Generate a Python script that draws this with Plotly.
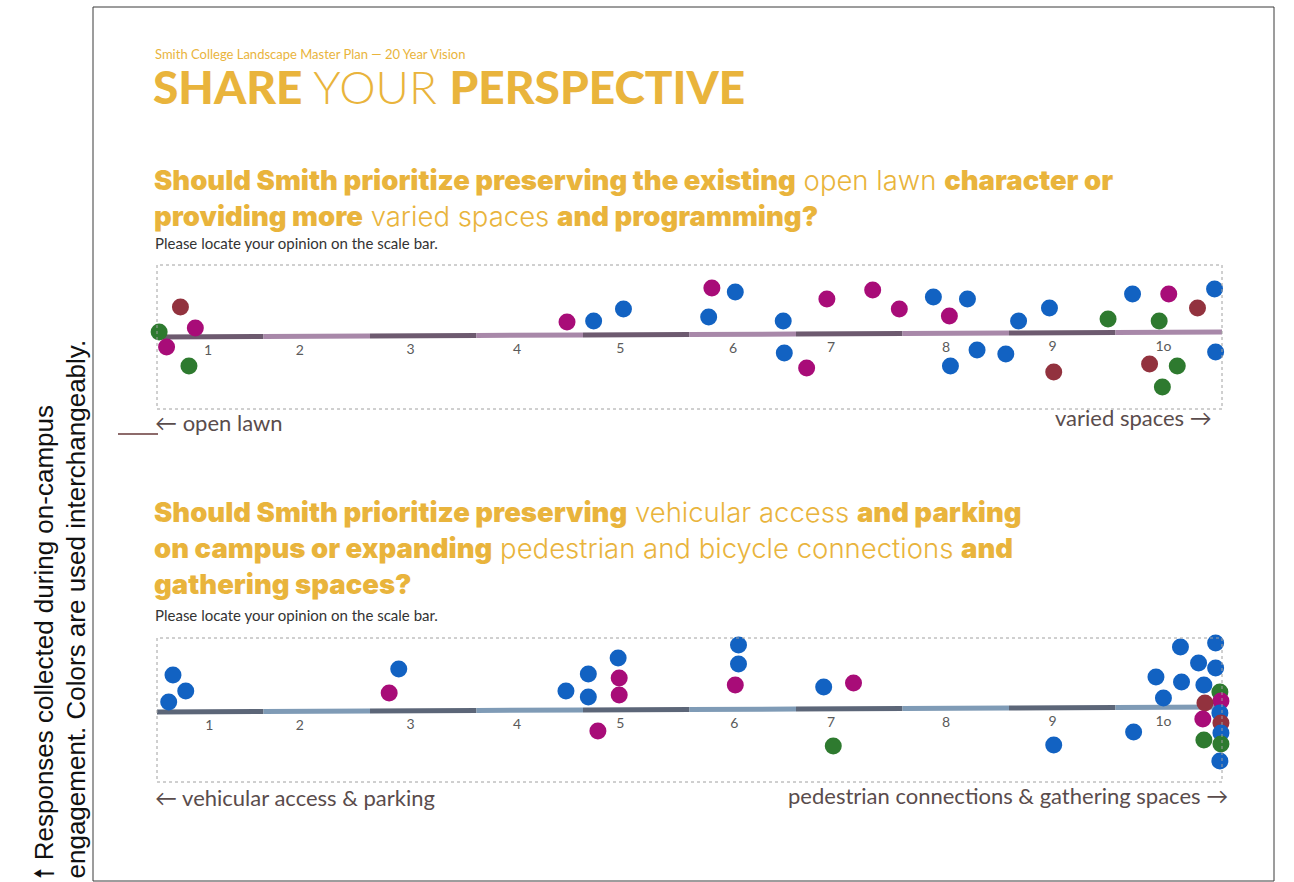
import plotly.graph_objects as go

# ---------------- data ----------------
scale_values = list(range(1, 11))
scale_labels = ["1", "2", "3", "4", "5", "6", "7", "8", "9", "1o"]
# printed position of each scale number (in scale units)
q1_label_x = [0.98, 1.84, 2.88, 3.88, 4.85, 5.91, 6.83, 7.91, 8.91, 9.95]
q2_label_x = [0.99, 1.84, 2.88, 3.88, 4.85, 5.92, 6.83, 7.91, 8.91, 9.95]

# Question 1: open lawn (1) ... varied spaces (10)
q1_x = [0.72, 0.52, 0.86, 0.46, 0.59, 0.80, 4.35, 4.60, 4.88, 5.68, 5.71, 5.93,
        6.38, 6.39, 6.60, 6.79, 7.22, 7.47, 7.79, 8.11, 7.94, 7.95, 8.20, 8.47,
        8.59, 8.88, 8.92, 9.43, 9.66, 10.00, 9.91, 10.27, 10.43, 10.60, 10.53,
        10.44, 9.82, 10.08, 9.94]
q1_y = [27, 2, 6, -11, -13, -32, 12, 13, 25, 17, 46, 42,
        13, -19, -34, 35, 44, 25, 37, 35, 18, -32, -16, -20,
        13, 26, -38, 15, 40, 40, 13, 26, 45, 17, 1,
        -18, -30, -32, -53]
q1_c = ["darkred", "green", "magenta", "darkred", "magenta", "green", "magenta", "blue", "blue", "blue", "magenta", "blue",
        "blue", "blue", "magenta", "magenta", "magenta", "magenta", "blue", "blue", "magenta", "blue", "blue", "blue",
        "blue", "blue", "darkred", "green", "blue", "magenta", "green", "darkred", "blue", "blue", "green",
        "blue", "darkred", "green", "green"]

# Question 2: vehicular access & parking (1) ... pedestrian connections (10)
q2_x = [0.65, 0.77, 0.61, 2.77, 2.68, 4.34, 4.55, 4.55, 4.83, 4.84, 4.84, 4.64,
        5.96, 5.96, 5.93, 6.76, 7.04, 6.85, 8.92, 9.67, 9.88, 9.95, 10.11, 10.12,
        10.28, 10.33, 10.44, 10.44, 10.48, 10.51, 10.49, 10.66, 10.48, 10.34,
        10.32, 10.49, 10.49, 10.33, 10.49, 10.48]
q2_y = [35, 19, 8, 41, 17, 19, 36, 13, 52, 32, 15, -21,
        65, 46, 25, 23, 27, -36, -35, -22, 33, 12, 63, 28,
        47, 25, 67, 42, 18, 29, 9, 3, -3, 7,
        -9, -13, -23, -30, -34, -51]
q2_c = ["blue", "blue", "blue", "blue", "magenta", "blue", "blue", "blue", "blue", "magenta", "magenta", "magenta",
        "blue", "blue", "magenta", "blue", "magenta", "green", "blue", "blue", "blue", "blue", "blue", "blue",
        "blue", "blue", "blue", "blue", "green", "magenta", "magenta", "blue", "blue", "darkred",
        "magenta", "darkred", "blue", "green", "green", "blue"]

# slight tilt of the printed scale bars (left end, right end)
q1_bar_tilt = (-3, 2)
q2_bar_tilt = (-2, 3)

# ---------------- style ----------------
W, H = 1294, 882
GOLD = "#e9b43c"
BROWN = "#5a4c4c"
dot_colors = {"blue": "#1262c2", "magenta": "#a80c78", "darkred": "#92323e", "green": "#2e7a2f"}
bar_colors_q1 = ["#6d5a6f", "#a888a9"]
bar_colors_q2 = ["#5c6678", "#7f9bb6"]
BOARD_FONT = "Lato"
Q_FONT = "Inter"
Q_SIZE = 27.5


def px(x):
    return x / W


def py(y):
    return 1 - y / H


fig = go.Figure()


def bar_y(x, tilt):
    return tilt[0] + (tilt[1] - tilt[0]) * (x - 0.5) / 10.0


def add_panel(xa, ya, tilt, bar_colors, label_x, xs, ys, cs):
    for i, v in enumerate(scale_values):
        x0, x1 = v - 0.5, v + 0.5
        fig.add_trace(go.Scatter(
            x=[x0, x1], y=[bar_y(x0, tilt), bar_y(x1, tilt)], mode="lines",
            line=dict(color=bar_colors[i % 2], width=5), xaxis=xa, yaxis=ya,
            hoverinfo="skip", showlegend=False, cliponaxis=False))
    fig.add_trace(go.Scatter(
        x=label_x, y=[bar_y(x, tilt) - 15 for x in label_x], mode="text",
        text=scale_labels, textfont=dict(family=BOARD_FONT, size=14, color="#5a5a5a"),
        xaxis=xa, yaxis=ya, hoverinfo="skip", showlegend=False, cliponaxis=False))
    fig.add_trace(go.Scatter(
        x=xs, y=ys, mode="markers",
        marker=dict(size=17, color=[dot_colors[c] for c in cs], line=dict(width=0), opacity=1),
        xaxis=xa, yaxis=ya, showlegend=False, cliponaxis=False))


add_panel("x", "y", q1_bar_tilt, bar_colors_q1, q1_label_x, q1_x, q1_y, q1_c)
add_panel("x2", "y2", q2_bar_tilt, bar_colors_q2, q2_label_x, q2_x, q2_y, q2_c)

ax_common = dict(visible=False, showgrid=False, zeroline=False, fixedrange=True)
fig.update_layout(
    width=W, height=H, margin=dict(l=0, r=0, t=0, b=0),
    paper_bgcolor="white", plot_bgcolor="rgba(0,0,0,0)",
    xaxis=dict(domain=[px(157), px(1222)], range=[0.5, 10.5], **ax_common),
    yaxis=dict(domain=[py(409), py(265)], range=[-75, 69], **ax_common),
    xaxis2=dict(domain=[px(157), px(1222)], range=[0.5, 10.5], anchor="y2", **ax_common),
    yaxis2=dict(domain=[py(782), py(638)], range=[-72, 72], anchor="x2", **ax_common),
)

shapes = [
    dict(type="rect", xref="paper", yref="paper", x0=px(93), x1=px(1274), y0=py(881), y1=py(7),
         line=dict(color="#3a3a3a", width=1)),
    dict(type="rect", xref="x domain", yref="y domain", x0=0, x1=1, y0=0, y1=1,
         line=dict(color="#a0a0a0", width=1, dash="dot")),
    dict(type="rect", xref="x2 domain", yref="y2 domain", x0=0, x1=1, y0=0, y1=1,
         line=dict(color="#a0a0a0", width=1, dash="dot")),
    dict(type="line", xref="paper", yref="paper", x0=px(118), x1=px(158), y0=py(434), y1=py(434),
         line=dict(color="#8d6b6b", width=2)),
]
fig.update_layout(shapes=shapes)

B = '<span style="font-weight:900">'
E = '</span>'


def ann(text, x, y, size, color=GOLD, weight=300, xanchor="left", family=BOARD_FONT):
    fig.add_annotation(text=text, x=px(x), y=py(y), xref="paper", yref="paper",
                       xanchor=xanchor, yanchor="middle", showarrow=False,
                       font=dict(family=family, size=size, color=color, weight=weight))


ann("Smith College Landscape Master Plan — 20 Year Vision", 153, 54, 13, weight=400)
ann(f"{B}SHARE{E} YOUR {B}PERSPECTIVE{E}", 151, 86, 46)

ann(f"{B}Should Smith prioritize preserving the existing{E} open lawn {B}character or{E}", 152, 180, Q_SIZE,
    family=Q_FONT)
ann(f"{B}providing more{E} varied spaces {B}and programming?{E}", 152, 216, Q_SIZE, family=Q_FONT)
ann("Please locate your opinion on the scale bar.", 153, 243, 15, color="#333333", weight=400)
ann("← open lawn", 153, 422, 22, color=BROWN, weight=400)
ann("varied spaces →", 1214, 417, 22, color=BROWN, weight=400, xanchor="right")

ann(f"{B}Should Smith prioritize preserving{E} vehicular access {B}and parking{E}", 152, 512, Q_SIZE,
    family=Q_FONT)
ann(f"{B}on campus or expanding{E} pedestrian and bicycle connections {B}and{E}", 152, 548, Q_SIZE,
    family=Q_FONT)
ann(f"{B}gathering spaces?{E}", 152, 584, Q_SIZE, family=Q_FONT)
ann("Please locate your opinion on the scale bar.", 153, 615, 15, color="#333333", weight=400)
ann("← vehicular access &amp; parking", 153, 797, 22, color=BROWN, weight=400)
ann("pedestrian connections &amp; gathering spaces →", 1230, 795, 22, color=BROWN, weight=400,
    xanchor="right")

# rotated side note
for text, xc in [("🠕 Responses collected during on-campus", 43),
                 ("engagement. Colors are used interchangeably.", 75)]:
    fig.add_annotation(text=text, x=px(xc), y=py(881), xref="paper", yref="paper",
                       xanchor="center", yanchor="bottom", textangle=-90, showarrow=False,
                       font=dict(family="Liberation Sans", size=26, color="#111111"))

fig.write_html("out.html", config={"displayModeBar": False},
               post_script="document.body.style.margin='0';")
